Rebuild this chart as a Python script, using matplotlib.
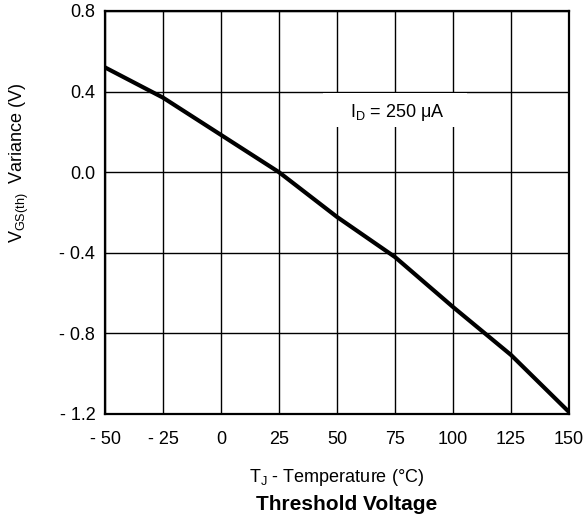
import matplotlib
matplotlib.use("Agg")
import matplotlib.pyplot as plt
from matplotlib.patches import Rectangle

plt.rcParams['font.family'] = ['Liberation Sans', 'DejaVu Sans']
plt.rcParams['mathtext.fontset'] = 'custom'
plt.rcParams['mathtext.rm'] = 'Liberation Sans'
plt.rcParams['mathtext.it'] = 'Liberation Sans'
plt.rcParams['mathtext.bf'] = 'Liberation Sans:bold'

temps = [-50, -25, 0, 25, 50, 75, 100, 125, 150]
variance = [0.52, 0.37, 0.185, 0.0, -0.222, -0.421, -0.669, -0.907, -1.19]

xticks = [-50, -25, 0, 25, 50, 75, 100, 125, 150]
xticklabels = ["- 50", "- 25", "0", "25", "50", "75", "100", "125", "150"]
yticks = [-1.2, -0.8, -0.4, 0.0, 0.4, 0.8]
yticklabels = ["- 1.2", "- 0.8", "- 0.4", "0.0", "0.4", "0.8"]

fig = plt.figure(figsize=(5.85, 5.21), dpi=100)
ax = fig.add_axes([105/585, 1 - 414/521, 464/585, 403/521])

ax.plot(temps, variance, color='black', linewidth=3.0, solid_capstyle='butt',
        solid_joinstyle='round', zorder=3)

ax.set_xlim(-50, 150)
ax.set_ylim(-1.2, 0.8)
ax.set_xticks(xticks)
ax.set_xticklabels(xticklabels)
ax.set_yticks(yticks)
ax.set_yticklabels(yticklabels)
ax.tick_params(axis='both', length=0, labelsize=13)
ax.tick_params(axis='x', pad=12)
ax.tick_params(axis='y', pad=7)
ax.grid(True, color='black', linewidth=1.0)
ax.set_axisbelow(True)
for s in ax.spines.values():
    s.set_linewidth(1.6)

ax.add_patch(Rectangle((44, 0.222), 62, 0.172, facecolor='white', edgecolor='none', zorder=1))
ax.text(76, 0.296, "I$_\\mathregular{D}$ = 250 μA", fontsize=13, ha='center', va='center', zorder=2)

fig.text(337/585, 1 - 478/521, "T$_\\mathregular{J}$ - Temperature (°C)", fontsize=13,
         ha='center', va='center')
fig.text(347/585, 1 - 505/521, "Threshold Voltage", fontsize=15, fontweight='bold',
         ha='center', va='center')
fig.text(19/585, 1 - 163/521, "V$_\\mathregular{GS(th)}$  Variance (V)", fontsize=13,
         rotation=90, ha='center', va='center')

fig.savefig("out.png", dpi=100)
